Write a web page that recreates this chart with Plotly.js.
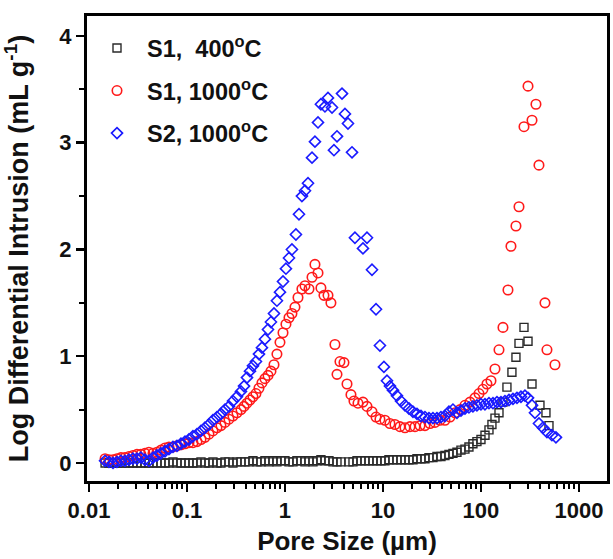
<!DOCTYPE html>
<html>
<head>
<meta charset="utf-8">
<script src="https://cdn.plot.ly/plotly-3.0.1.min.js"></script>
<style>html,body{margin:0;padding:0;background:#fff;}#chart{width:613px;height:559px;}</style>
</head>
<body>
<div id="chart"></div>
<script>
// ---- S1, 400°C (black squares) ----
const poreS1_400 = [0.0146,0.0160,0.0176,0.0193,0.0212,0.0233,0.0256,0.0281,0.0309,0.0339,0.0373,0.0409,0.0450,0.0494,0.0543,0.0597,0.0655,0.0720,0.0791,0.0869,0.0955,0.1048,0.1151,0.1265,0.1390,0.1527,0.1677,0.1842,0.2024,0.2223,0.2443,0.2683,0.2947,0.3237,0.3557,0.3908,0.4295,0.4714,0.5176,0.5689,0.6247,0.6871,0.7551,0.8279,0.9099,1.000,1.099,1.208,1.324,1.455,1.600,1.758,1.932,2.123,2.328,2.559,2.812,3.090,3.396,3.724,4.498,4.943,5.433,5.970,6.551,7.194,7.907,8.690,9.550,10.47,11.51,12.65,13.90,15.27,16.77,18.42,20.24,22.23,24.43,26.83,29.47,32.37,35.57,39.06,42.91,47.14,51.78,56.88,62.48,68.63,75.39,82.79,90.94,100.0,109.9,120.7,129.4,139.0,152.7,167.7,184.1,207.0,227.5,244.3,274.8,302.0,331.7,399.9,460.3,494.3];
const dvS1_400 = [0.00,0.00,0.00,0.00,0.00,0.00,0.00,0.00,0.00,0.00,0.00,0.00,0.00,0.00,0.00,0.00,0.00,0.01,0.00,0.00,0.00,0.00,0.00,0.00,0.01,0.00,0.00,0.01,0.00,0.00,0.01,0.01,0.00,0.01,0.01,0.01,0.01,0.02,0.01,0.01,0.02,0.01,0.02,0.01,0.02,0.02,0.01,0.01,0.02,0.02,0.01,0.02,0.01,0.02,0.03,0.02,0.02,0.01,0.01,0.01,0.01,0.01,0.02,0.02,0.02,0.02,0.02,0.02,0.02,0.02,0.03,0.03,0.03,0.03,0.03,0.03,0.03,0.04,0.04,0.04,0.05,0.05,0.06,0.06,0.07,0.08,0.09,0.10,0.12,0.13,0.15,0.18,0.20,0.22,0.26,0.31,0.36,0.42,0.47,0.57,0.71,0.85,0.99,1.12,1.27,1.14,0.74,0.54,0.47,0.35];

// ---- S1, 1000°C (red circles) ----
const poreS1_1000 = [0.0146,0.0160,0.0176,0.0193,0.0212,0.0233,0.0256,0.0281,0.0309,0.0339,0.0373,0.0409,0.0450,0.0494,0.0543,0.0597,0.0655,0.0720,0.0791,0.0869,0.0955,0.1048,0.1151,0.1265,0.1390,0.1527,0.1677,0.1842,0.2024,0.2223,0.2443,0.2683,0.2947,0.3237,0.3557,0.3819,0.4096,0.4395,0.4714,0.5058,0.5427,0.5822,0.6247,0.6712,0.7194,0.7727,0.8279,0.8892,0.9550,1.0233,1.099,1.178,1.265,1.358,1.489,1.600,1.758,1.888,2.023,2.173,2.328,2.500,2.748,2.944,3.236,3.396,3.640,4.000,4.295,4.714,5.058,5.559,6.252,6.871,7.727,8.492,9.311,10.47,11.78,13.25,14.90,16.77,18.86,21.23,23.88,26.83,30.20,33.96,38.19,42.91,48.31,54.33,61.09,68.63,77.27,86.89,95.50,104.8,115.1,126.5,139.0,152.7,167.7,188.6,202.3,227.5,244.3,274.8,302.0,331.7,363.9,390.6,449.8,471.4,568.8];
const dvS1_1000 = [0.04,0.03,0.03,0.04,0.05,0.05,0.06,0.07,0.08,0.08,0.09,0.10,0.09,0.10,0.12,0.14,0.15,0.15,0.16,0.17,0.18,0.19,0.19,0.20,0.22,0.24,0.27,0.30,0.33,0.35,0.38,0.41,0.44,0.47,0.50,0.53,0.56,0.59,0.62,0.65,0.70,0.75,0.79,0.82,0.86,0.92,1.02,1.13,1.22,1.30,1.36,1.40,1.46,1.55,1.63,1.66,1.63,1.74,1.86,1.78,1.64,1.57,1.57,1.50,1.11,0.83,0.95,0.94,0.74,0.64,0.58,0.56,0.57,0.53,0.48,0.43,0.41,0.40,0.37,0.36,0.34,0.33,0.34,0.34,0.35,0.35,0.37,0.38,0.40,0.40,0.43,0.47,0.50,0.54,0.57,0.61,0.65,0.69,0.74,0.77,0.88,1.06,1.27,1.62,2.03,2.22,2.40,3.15,3.53,3.21,3.36,2.79,1.50,1.06,0.92];

// ---- S2, 1000°C (blue diamonds) ----
const poreS2_1000 = [0.0146,0.0160,0.0176,0.0193,0.0212,0.0233,0.0256,0.0281,0.0309,0.0339,0.0373,0.0409,0.0450,0.0494,0.0543,0.0597,0.0655,0.0720,0.0791,0.0869,0.0955,0.1048,0.1151,0.1265,0.1390,0.1527,0.1677,0.1842,0.2024,0.2223,0.2443,0.2683,0.2947,0.3237,0.3557,0.3819,0.4096,0.4395,0.4714,0.5058,0.5427,0.5822,0.6247,0.6712,0.7194,0.7727,0.8279,0.8892,0.9550,1.0233,1.099,1.178,1.294,1.390,1.489,1.600,1.718,1.888,2.023,2.173,2.328,2.559,2.748,3.020,3.162,3.396,3.819,4.093,4.395,4.831,5.176,6.252,6.871,7.727,8.492,9.311,10.23,10.99,11.78,12.65,13.90,15.27,16.77,18.42,20.24,22.23,24.43,26.83,29.47,32.37,35.57,39.06,42.91,47.14,51.78,56.88,62.48,68.63,75.39,82.79,90.94,100.0,109.9,120.7,132.6,145.6,160.0,175.7,193.1,212.1,233.0,255.9,281.1,302.0,331.7,355.6,390.6,429.2,471.4,529.7,582.1];
const dvS2_1000 = [0.02,0.01,0.00,0.01,0.02,0.02,0.03,0.04,0.04,0.05,0.03,0.02,0.05,0.07,0.09,0.11,0.13,0.15,0.16,0.18,0.20,0.22,0.25,0.27,0.30,0.33,0.36,0.40,0.43,0.46,0.50,0.53,0.58,0.62,0.67,0.72,0.80,0.86,0.91,0.95,1.02,1.08,1.16,1.25,1.32,1.40,1.52,1.60,1.70,1.82,1.92,2.00,2.14,2.33,2.50,2.55,2.62,2.86,3.01,3.19,3.36,3.34,3.42,3.33,2.93,3.06,3.46,3.27,3.18,2.91,2.11,2.01,2.11,1.81,1.44,1.10,0.90,0.77,0.72,0.68,0.63,0.58,0.54,0.51,0.48,0.46,0.44,0.43,0.42,0.42,0.42,0.43,0.44,0.48,0.50,0.47,0.49,0.51,0.52,0.53,0.54,0.55,0.55,0.56,0.56,0.57,0.57,0.58,0.59,0.60,0.61,0.62,0.63,0.61,0.54,0.47,0.37,0.33,0.29,0.26,0.24];

// ---- axis ticks ----
const xTickVals = [0.01, 0.1, 1, 10, 100, 1000];
const xTickText = ['0.01', '0.1', '1', '10', '100', '1000'];
const yTickVals = [0, 1, 2, 3, 4];
const yTickText = ['0', '1', '2', '3', '4'];
const seriesNames = ['S1,  400<sup>o</sup>C', 'S1, 1000<sup>o</sup>C', 'S2, 1000<sup>o</sup>C'];

const FONT = 'Arial, "Liberation Sans", sans-serif';

const traces = [
  {x: poreS1_400, y: dvS1_400, name: seriesNames[0], type: 'scatter', mode: 'markers', legendgroup: 'a',
   marker: {symbol: 'square-open', size: 8, color: '#2a2a2a', line: {width: 1.4, color: '#2a2a2a'}}},
  {x: poreS1_1000, y: dvS1_1000, name: seriesNames[1], type: 'scatter', mode: 'markers', legendgroup: 'b',
   marker: {symbol: 'circle-open', size: 9.5, color: '#ff1a1a', line: {width: 1.6, color: '#ff1a1a'}}},
  {x: poreS2_1000, y: dvS2_1000, name: seriesNames[2], type: 'scatter', mode: 'markers', legendgroup: 'c',
   marker: {symbol: 'diamond-open', size: 8.5, color: '#1a1aff', line: {width: 1.6, color: '#1a1aff'}}}
];

const layout = {
  width: 613, height: 559,
  margin: {l: 87, r: 6, t: 16, b: 78},
  paper_bgcolor: '#fff', plot_bgcolor: '#fff',
  font: {family: FONT, color: '#000', size: 20, weight: 'bold'},
  showlegend: true,
  legend: {x: 0, y: 0.978, xanchor: 'left', yanchor: 'top', bgcolor: 'rgba(0,0,0,0)',
           font: {family: FONT, size: 23.5, color: '#111', weight: 'bold'},
           itemwidth: 50, traceorder: 'grouped', tracegroupgap: 9},
  xaxis: {
    type: 'log', range: [-2.02, 3.286],
    tickmode: 'array', tickvals: xTickVals, ticktext: xTickText,
    ticks: 'outside', ticklen: 8, tickwidth: 2.5, tickcolor: '#000',
    minor: {dtick: 'D1', ticks: 'outside', ticklen: 5, tickwidth: 2, tickcolor: '#000', showgrid: false},
    showline: true, linewidth: 3, linecolor: '#000', mirror: true,
    showgrid: false, zeroline: false,
    tickfont: {family: FONT, size: 22, color: '#111', weight: 'bold'},
    title: {text: 'Pore Size (µm)', font: {family: FONT, size: 26, color: '#111', weight: 'bold'}, standoff: 10}
  },
  yaxis: {
    range: [-0.169, 4.187],
    tickmode: 'array', tickvals: yTickVals, ticktext: yTickText,
    ticks: 'outside', ticklen: 8, tickwidth: 2.5, tickcolor: '#000',
    minor: {dtick: 0.5, tick0: 0, ticks: 'outside', ticklen: 5, tickwidth: 2, tickcolor: '#000', showgrid: false},
    showline: true, linewidth: 3, linecolor: '#000', mirror: true,
    showgrid: false, zeroline: false,
    tickfont: {family: FONT, size: 22, color: '#111', weight: 'bold'},
    title: {text: 'Log Differential Intrusion (mL g<sup>-1</sup>)', font: {family: FONT, size: 27, color: '#111', weight: 'bold'}}
  }
};

Plotly.newPlot('chart', traces, layout, {staticPlot: true, displayModeBar: false});
</script>
</body>
</html>
